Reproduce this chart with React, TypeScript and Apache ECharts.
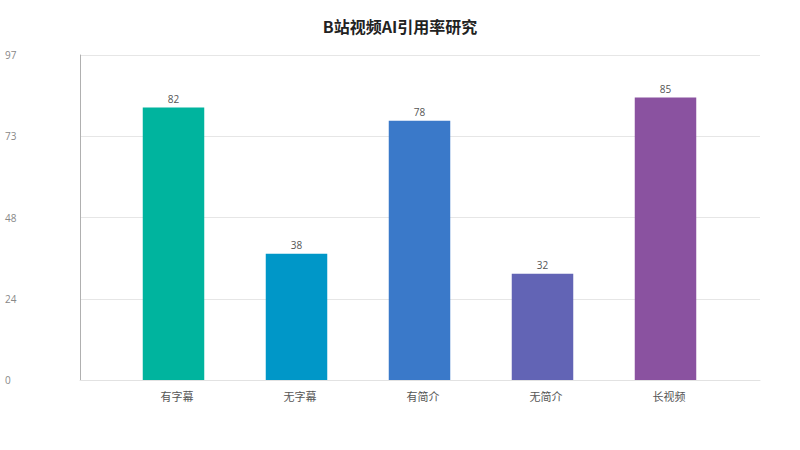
import React, { useEffect, useRef } from "react";
import * as echarts from "echarts";

const titleText = "B站视频AI引用率研究";
const categories = ["有字幕", "无字幕", "有简介", "无简介", "长视频"];
const values = [82, 38, 78, 32, 85];
const barColors = ["#00b49e", "#0097c8", "#3a79c9", "#6264b5", "#8a52a0"];
const yTickLabels = ["0", "24", "48", "73", "97"];
const yMax = 97.8;

const FONT = "'Open Sans', 'Noto Sans CJK SC', sans-serif";
const CJK = "'Noto Sans CJK SC', sans-serif";

export default function App() {
  const ref = useRef<HTMLDivElement>(null);
  useEffect(() => {
    if (!ref.current) return;
    const chart = echarts.init(ref.current, undefined, { renderer: "svg" });
    chart.setOption({
      animation: false,
      backgroundColor: "#ffffff",
      textStyle: { fontFamily: FONT },
      title: {
        text: titleText,
        left: "center",
        top: 13,
        textStyle: { fontSize: 16, fontWeight: "bold", color: "#222222", fontFamily: CJK },
      },
      grid: [
        { left: 80, right: 40, top: 55, bottom: 70, containLabel: false },
        { left: 112, width: 615, top: 55, bottom: 70, containLabel: false },
      ],
      xAxis: [
        {
          gridIndex: 0,
          type: "category",
          data: categories,
          axisLine: { show: true, lineStyle: { color: "#e2e2e2", width: 1 } },
          axisTick: { show: false },
          axisLabel: { show: false },
        },
        {
          gridIndex: 1,
          type: "category",
          data: categories,
          axisLine: { show: false },
          axisTick: { show: false },
          axisLabel: {
            color: "#555555",
            fontSize: 11,
            margin: 10,
            padding: [0, 0, 0, 7],
            fontFamily: CJK,
          },
        },
      ],
      yAxis: [
        {
          gridIndex: 0,
          type: "value",
          min: 0,
          max: yMax,
          interval: yMax / 4,
          axisLine: { show: true, lineStyle: { color: "#b0b0b0", width: 1 } },
          axisTick: { show: false },
          splitLine: { show: true, lineStyle: { color: "#e6e6e6", width: 1 } },
          axisLabel: {
            color: "#888888",
            fontSize: 10,
            align: "left",
            margin: 75,
            fontFamily: FONT,
            formatter: (v: number) => {
              const idx = Math.round(v / (yMax / 4));
              return yTickLabels[idx] ?? "";
            },
          },
        },
        {
          gridIndex: 1,
          type: "value",
          min: 0,
          max: yMax,
          interval: yMax / 4,
          show: false,
          splitLine: { show: false },
        },
      ],
      series: [
        {
          type: "bar",
          xAxisIndex: 1,
          yAxisIndex: 1,
          barWidth: "50%",
          data: values.map((v, i) => ({ value: v, itemStyle: { color: barColors[i] } })),
          label: {
            show: true,
            position: "top",
            distance: 4,
            color: "#555555",
            fontSize: 10,
            fontFamily: FONT,
          },
        },
      ],
    });
    return () => chart.dispose();
  }, []);
  return (
    <div
      ref={ref}
      style={{ position: "absolute", left: 0, top: 0, width: 800, height: 450 }}
    />
  );
}
